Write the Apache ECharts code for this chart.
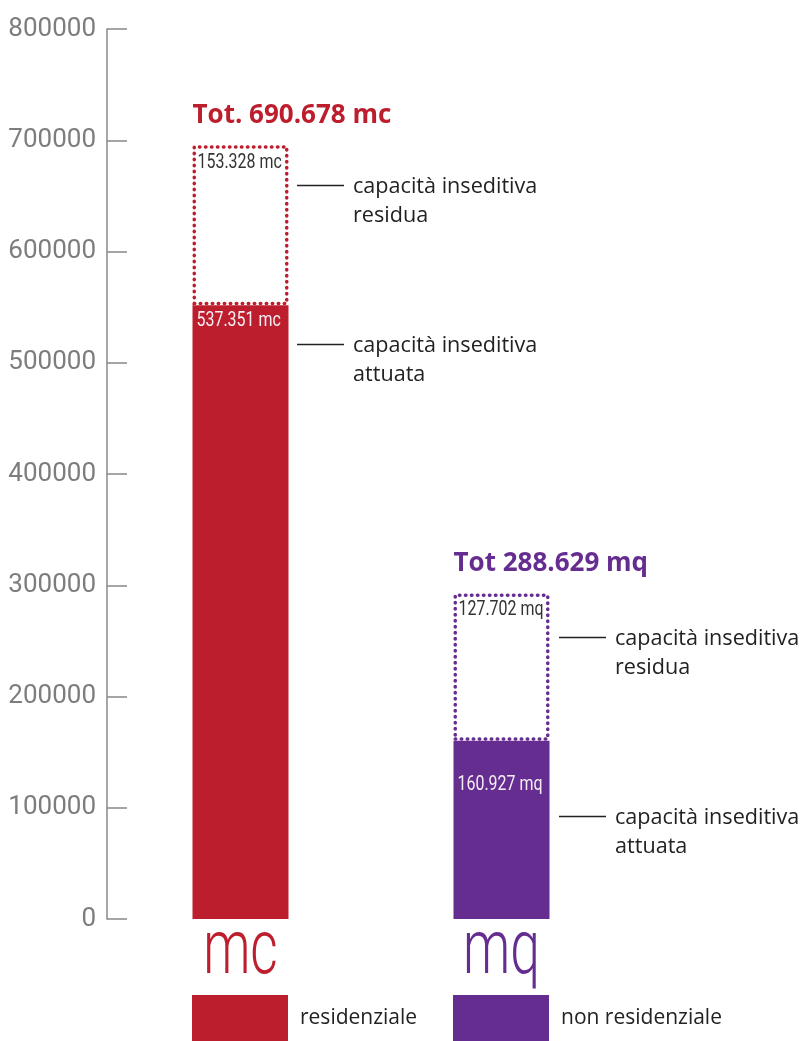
<!DOCTYPE html>
<html>
<head>
<meta charset="utf-8">
<script src="https://cdn.jsdelivr.net/npm/echarts@6/dist/echarts.min.js"></script>
<style>
  html, body { margin: 0; padding: 0; background: #fff; }
  #chart { width: 807px; height: 1041px; }
</style>
</head>
<body>
<div id="chart"></div>
<script>
// categorie (unità di misura)
const categories = ["mc", "mq"];
// nomi delle serie in legenda
const seriesNames = ["residenziale", "non residenziale"];
// capacità insediativa attuata (altezza)
const attuata = [551600, 160300];
// capacità insediativa residua (altezza)
const residua = [144000, 132300];
// testi dei valori
const attuataLabels = ["537.351 mc", "160.927 mq"];
const residuaLabels = ["153.328 mc", "127.702 mq"];
const totLabels = ["Tot. 690.678 mc", "Tot 288.629 mq"];
// asse y
const yMin = 0;
const yMax = 800000;
const yStep = 100000;

const colors = ["#BD1E2D", "#662D91"];
const numFont = "Roboto, 'Liberation Sans', sans-serif";
const textFont = "'Open Sans', 'Noto Sans', sans-serif";

const chart = echarts.init(document.getElementById("chart"));

// barra piena: una serie per categoria (serve alla legenda)
function solidSeries(i) {
  return {
    name: seriesNames[i],
    type: "bar",
    stack: "tot",
    xAxisIndex: 1,
    yAxisIndex: 1,
    barWidth: 96,
    data: categories.map((c, j) => (j === i ? attuata[i] : "-")),
    itemStyle: { color: colors[i] },
  };
}

const legendBase = {
  top: 995,
  padding: 0,
  icon: "rect",
  itemWidth: 96,
  itemHeight: 46,
  selectedMode: false,
  textStyle: {
    fontFamily: textFont,
    fontSize: 21,
    color: "#222",
    padding: [0, 0, 0, 7],
  },
};

const option = {
  animation: false,
  grid: [
    { left: 107, top: 29, bottom: 122, width: 600, outerBoundsMode: "none" },
    { left: 110, top: 29, bottom: 122, width: 522, outerBoundsMode: "none" },
  ],
  legend: [
    Object.assign({}, legendBase, { data: [seriesNames[0]], left: 192 }),
    Object.assign({}, legendBase, { data: [seriesNames[1]], left: 453 }),
  ],
  xAxis: [
    { gridIndex: 0, type: "value", show: false },
    {
      gridIndex: 1,
      type: "category",
      data: categories,
      axisLine: { show: false },
      axisTick: { show: false },
      axisLabel: { show: false },
    },
  ],
  yAxis: [
    {
      gridIndex: 0,
      type: "value",
      min: yMin,
      max: yMax,
      interval: yStep,
      axisLine: { show: true, lineStyle: { color: "#888", width: 1.5 } },
      axisTick: {
        show: true,
        inside: true,
        length: 20,
        lineStyle: { color: "#888", width: 1.5 },
      },
      splitLine: { show: false },
      axisLabel: {
        margin: 11,
        color: "#7d7d7d",
        fontFamily: numFont,
        fontSize: 26,
        formatter: (v) => String(v),
      },
    },
    {
      gridIndex: 1,
      type: "value",
      min: yMin,
      max: yMax,
      interval: yStep,
      show: false,
    },
  ],
  series: [
    solidSeries(0),
    solidSeries(1),
    {
      name: "residua",
      type: "bar",
      stack: "tot",
      xAxisIndex: 1,
      yAxisIndex: 1,
      barWidth: 96,
      data: residua.map((v, i) => ({
        value: v,
        itemStyle: { borderColor: colors[i] },
      })),
      itemStyle: {
        color: "rgba(0,0,0,0)",
        borderWidth: 3.5,
        borderType: [0.5, 5.5],
        borderCap: "round",
      },
    },
  ],
};

chart.setOption(option);

const graphics = [];
// scostamenti verticali delle etichette dentro le barre
const resOffset = [18, 16];
const attOffset = [15.5, 44];

categories.forEach((c, i) => {
  const base = chart.convertToPixel({ gridIndex: 1 }, [i, 0]);
  const solidTop = chart.convertToPixel({ gridIndex: 1 }, [i, attuata[i]]);
  const top = chart.convertToPixel({ gridIndex: 1 }, [i, attuata[i] + residua[i]]);
  const left = top[0] - 48;

  // totale sopra la barra
  graphics.push({
    type: "text",
    z: 100,
    x: left,
    y: top[1] - 29.5,
    style: {
      text: totLabels[i],
      fill: colors[i],
      font: "bold 26px " + textFont,
      verticalAlign: "middle",
    },
  });
  // valore residuo
  graphics.push({
    type: "text",
    z: 100,
    x: left + 5,
    y: top[1] + resOffset[i],
    scaleX: 0.76,
    style: {
      text: residuaLabels[i],
      fill: "#333",
      font: "21px " + numFont,
      verticalAlign: "middle",
    },
  });
  // valore attuato
  graphics.push({
    type: "text",
    z: 100,
    x: left + 4,
    y: solidTop[1] + attOffset[i],
    scaleX: 0.76,
    style: {
      text: attuataLabels[i],
      fill: "#f4eef4",
      font: "21px " + numFont,
      verticalAlign: "middle",
    },
  });
  // unità sotto la barra
  graphics.push({
    type: "text",
    z: 100,
    x: base[0],
    y: base[1] + 35,
    scaleX: 0.7,
    style: {
      text: c,
      fill: colors[i],
      font: "300 76px " + numFont,
      align: "center",
      verticalAlign: "middle",
    },
  });
});

// didascalie con linea di richiamo
const notes = [
  { x: 297, y: 185.5, text: "capacità inseditiva\nresidua" },
  { x: 297, y: 344.5, text: "capacità inseditiva\nattuata" },
  { x: 559, y: 637.5, text: "capacità inseditiva\nresidua" },
  { x: 559, y: 816.5, text: "capacità inseditiva\nattuata" },
];
notes.forEach((n) => {
  graphics.push({
    type: "line",
    z: 100,
    shape: { x1: n.x, y1: n.y, x2: n.x + 47, y2: n.y },
    style: { stroke: "#222", lineWidth: 1.3 },
  });
  graphics.push({
    type: "text",
    z: 100,
    x: n.x + 56,
    y: n.y - 13,
    style: {
      text: n.text,
      fill: "#222",
      font: "21.6px " + textFont,
      lineHeight: 29,
    },
  });
});

chart.setOption({ graphic: graphics });
</script>
</body>
</html>
